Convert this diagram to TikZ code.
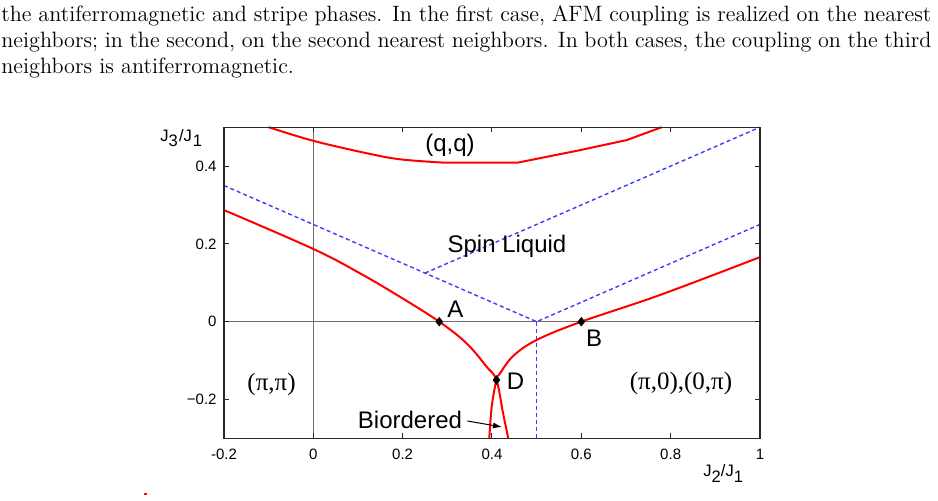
\documentclass[tikz,border=0pt]{standalone}
\usepackage{fontspec}
\newfontfamily\plotfont{Liberation Sans}
\newfontfamily\symfont{Liberation Serif}
\usetikzlibrary{shapes.geometric,arrows.meta}
\newcommand{\captxtfont}{\fontsize{11.1}{13}\selectfont}
\newcommand{\tickfont}{\plotfont\fontsize{7.5}{9}\selectfont}
\newcommand{\bigfont}{\plotfont\fontsize{12}{14}\selectfont}
\newcommand{\axfont}{\plotfont\fontsize{8.3}{10}\selectfont}
\newcommand{\axsub}[1]{\raisebox{-2.7pt}{#1}}
\definecolor{redc}{RGB}{255,0,0}
\definecolor{bluec}{RGB}{60,60,255}
\definecolor{framec}{RGB}{40,40,40}
\definecolor{zeroc}{RGB}{110,110,110}
\tikzset{
  frame/.style={draw=framec,line width=0.6pt},
  zeroline/.style={draw=zeroc,line width=0.5pt},
  tickmark/.style={draw=framec,line width=0.5pt},
  redcurve/.style={draw=redc,line width=1pt},
  bluedash/.style={draw=bluec,line width=0.7pt,dash pattern=on 2pt off 1.5pt},
  ptmark/.style={diamond,fill=black,inner sep=0pt,minimum width=4pt,minimum height=5pt},
  ticklbl/.style={font=\tickfont,inner sep=0pt},
  axlbl/.style={font=\axfont,inner sep=0pt,anchor=base west},
  biglbl/.style={font=\bigfont,inner sep=0pt},
  symlbl/.style={font=\symfont\fontsize{12.5}{14}\selectfont,inner sep=0pt},
  captxt/.style={anchor=base west,inner sep=0pt,font=\captxtfont},
  arr/.style={draw=black,line width=0.5pt,-{Latex[length=4.5pt,width=3pt]}}
}
\begin{document}
\begin{tikzpicture}[x=0.5pt,y=-0.5pt]
\useasboundingbox (0,0) rectangle (938,501);
% caption
\node[captxt] (cap1) at (1,22) {\makebox[465pt][s]{the antiferromagnetic and stripe phases. In the first case, AFM coupling is realized on the nearest}};
\node[captxt] (cap2) at (1,48) {\makebox[465pt][s]{neighbors; in the second, on the second nearest neighbors. In both cases, the coupling on the third}};
\node[captxt] (cap3) at (1,74) {neighbors is antiferromagnetic.};
% tiny mark bottom left
\fill[redc] (143.5,492.8) rectangle (147,494.6);
% plot
\begin{scope}[shift={(313.3,321.7)},x=223.35pt,y=194.5pt]
  \draw[zeroline] (0,-0.3) -- (0,0.5);
  \draw[zeroline] (-0.2,0) -- (1,0);
  \foreach \xv in {0,0.2,0.4,0.6,0.8}{
    \draw[tickmark] (\xv,-0.3) -- ++(0pt,2.5pt);
    \draw[tickmark] (\xv,0.5) -- ++(0pt,-2.5pt);
  }
  \foreach \yv in {-0.2,0,0.2,0.4}{
    \draw[tickmark] (-0.2,\yv) -- ++(2.5pt,0pt);
    \draw[tickmark] (1,\yv) -- ++(-2.5pt,0pt);
  }
  \foreach \xv/\txt/\nm in {-0.2/{-0.2}/xa,0/0/xb,0.2/0.2/xc,0.4/0.4/xd,0.6/0.6/xe,0.8/0.8/xf,1/1/xg}{
    \node[ticklbl,anchor=base] (\nm) at ([yshift=-10.5pt]\xv,-0.3) {\txt};
  }
  \foreach \yv/\txt/\nm in {0.4/0.4/ya,0.2/0.2/yb,0/0/yc,-0.2/{−0.2}/yd}{
    \node[ticklbl,anchor=east] (\nm) at ([xshift=-3.5pt]-0.2,\yv) {\txt};
  }
  % blue dashed
  \coordinate (L1a) at (-0.2,0.35);
  \coordinate (V) at (0.5,0);
  \coordinate (Br) at (0.25,0.125);
  \coordinate (TR) at (1,0.5);
  \coordinate (R2) at (1,0.25);
  \coordinate (Vb) at (0.5,-0.3);
  \draw[bluedash] (L1a) -- (V) -- (R2);
  \draw[bluedash] (Br) -- (TR);
  \draw[bluedash] (V) -- (Vb);
  % red curves
  \draw[redcurve] plot[smooth,tension=0.6] coordinates {(-0.1,0.5) (0,0.465) (0.12,0.433) (0.194,0.4175) (0.29,0.409)}
     -- (0.458,0.409) -- (0.597,0.441) -- (0.702,0.467) -- (0.78,0.5);
  \draw[redcurve] plot[smooth,tension=0.6] coordinates {(-0.2,0.287) (0,0.187) (0.1045,0.1244) (0.194,0.064) (0.282,0) (0.343,-0.0555) (0.388,-0.1157) (0.41,-0.15) (0.4247,-0.2347) (0.4365,-0.3)};
  \draw[redcurve] plot[smooth,tension=0.6] coordinates {(1,0.166) (0.776,0.0686) (0.6,0) (0.5,-0.047) (0.4477,-0.088) (0.418,-0.1327) (0.41,-0.15) (0.3994,-0.2185) (0.394,-0.3)};
  % frame
  \draw[frame] (-0.2,-0.3) rectangle (1,0.5);
  % points
  \node[ptmark] (A) at (0.282,0) {};
  \node[ptmark] (B) at (0.6,0) {};
  \node[ptmark] (D) at (0.41,-0.15) {};
\end{scope}
% labels
\node[axlbl] (ylab) at (160,141.5) {J\axsub{3}\kern0.6pt/J\kern0.4pt\axsub{1}};
\node[axlbl] (xlab) at (703,477) {J\axsub{2}/J\axsub{1}};
\node[biglbl] (qq) at (450,145) {(q,q)};
\node[biglbl] (sl) at (507,246) {Spin Liquid};
\node[biglbl] (lA) at (455.5,309.5) {A};
\node[biglbl] (lB) at (594,338) {B};
\node[biglbl] (lD) at (515.5,381) {D};
\node[symlbl] (pp) at (271.5,384) {(π,π)};
\node[symlbl] (p0) at (681,383) {(π,0),(0,π)};
\node[biglbl] (bio) at (410,420) {Biordered};
\coordinate (arrtip) at (502,427);
\draw[arr] ([xshift=2.5pt,yshift=-0.5pt]bio.east) -- (arrtip);
\end{tikzpicture}
\end{document}
